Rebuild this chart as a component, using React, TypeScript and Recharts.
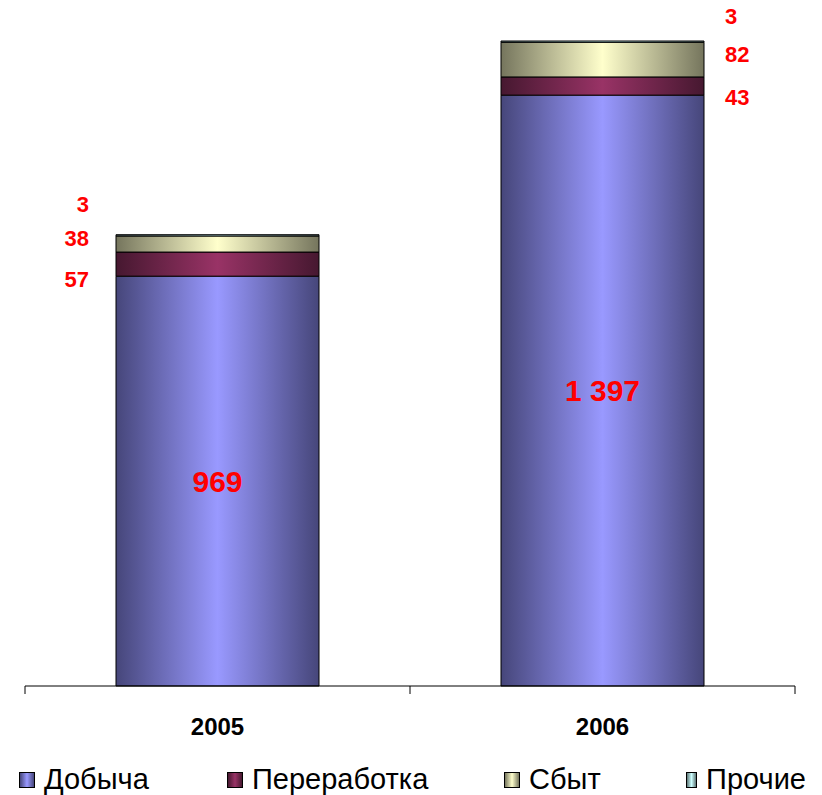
import React from 'react';
import { BarChart, Bar, XAxis, YAxis, Legend, LabelList } from 'recharts';

const years = ['2005', '2006'];
const dobycha = [969, 1397];
const pererabotka = [57, 43];
const sbyt = [38, 82];
const prochie = [3, 3];

const SERIES = [
  { key: 'dobycha', name: 'Добыча', color: '#9999ff', edge: '#46467a' },
  { key: 'pererabotka', name: 'Переработка', color: '#993366', edge: '#461830' },
  { key: 'sbyt', name: 'Сбыт', color: '#ffffcc', edge: '#75755d' },
  { key: 'prochie', name: 'Прочие', color: '#ccffff', edge: '#5e7575' },
];

// legend item widths, so the items sit where the original put them
const LEGEND_W = [208, 277, 182, 120];

// vertical nudges for the small labels, [2005, 2006]
const LABEL_DY: Record<string, number[]> = {
  pererabotka: [15, 11],
  sbyt: [-6, -5],
  prochie: [-31, -25],
};

const data = years.map((year, i) => ({
  year,
  dobycha: dobycha[i],
  pererabotka: pererabotka[i],
  sbyt: sbyt[i],
  prochie: prochie[i],
}));

const FONT = "'Liberation Sans', Arial, sans-serif";
const fmt = (v: number) => String(v).replace(/\B(?=(\d{3})+(?!\d))/g, ' ');

const sideLabel = (key: string) => (props: any) => {
  const { x, y, width, height, value, index } = props;
  const left = index === 0;
  return (
    <text
      x={left ? x - 27 : x + width + 21}
      y={y + height / 2 + LABEL_DY[key][index]}
      textAnchor={left ? 'end' : 'start'}
      dominantBaseline="central"
      fill="#ff0000"
      fontWeight="bold"
      fontSize={22}
      fontFamily={FONT}
    >
      {fmt(value)}
    </text>
  );
};

const centerLabel = (props: any) => {
  const { x, y, width, height, value } = props;
  return (
    <text
      x={x + width / 2}
      y={y + height / 2}
      textAnchor="middle"
      dominantBaseline="central"
      fill="#ff0000"
      fontWeight="bold"
      fontSize={30}
      fontFamily={FONT}
    >
      {fmt(value)}
    </text>
  );
};

const BAND = 385;

const YearTick = (props: any) => {
  const { x, y, payload, index } = props;
  return (
    <g>
      <line x1={x - BAND / 2} y1={y - 8} x2={x - BAND / 2} y2={y} stroke="#000" />
      {index === years.length - 1 && (
        <line x1={x + BAND / 2} y1={y - 8} x2={x + BAND / 2} y2={y} stroke="#000" />
      )}
      <text
        x={x}
        y={y + 32}
        textAnchor="middle"
        dominantBaseline="central"
        fontWeight="bold"
        fontSize={24}
        fontFamily={FONT}
        fill="#000"
      >
        {payload.value}
      </text>
    </g>
  );
};

const LegendContent = () => (
  <div
    style={{
      display: 'flex',
      alignItems: 'center',
      paddingLeft: 19,
      paddingTop: 3,
      height: 31,
      fontFamily: FONT,
      fontSize: 29,
      color: '#000',
    }}
  >
    {SERIES.map((s, i) => (
      <div
        key={s.key}
        style={{ display: 'flex', alignItems: 'center', width: LEGEND_W[i], whiteSpace: 'nowrap' }}
      >
        <span
          style={{
            display: 'inline-block',
            width: 14,
            height: 14,
            border: '1px solid #000',
            background: `linear-gradient(to right, ${s.edge}, ${s.color}, ${s.edge})`,
            marginRight: 9,
          }}
        />
        <span>{s.name}</span>
      </div>
    ))}
  </div>
);

export default function App() {
  return (
    <div style={{ position: 'absolute', left: 0, top: 0, background: '#fff' }}>
      <BarChart
        width={822}
        height={795}
        data={data}
        margin={{ top: 41, right: 27, left: 25, bottom: 0 }}
      >
        <defs>
          {SERIES.map((s) => (
            <linearGradient key={s.key} id={`grad-${s.key}`} x1="0" y1="0" x2="1" y2="0">
              <stop offset="0%" stopColor={s.edge} />
              <stop offset="50%" stopColor={s.color} />
              <stop offset="100%" stopColor={s.edge} />
            </linearGradient>
          ))}
        </defs>
        <XAxis
          dataKey="year"
          axisLine={{ stroke: '#000' }}
          tickLine={false}
          tick={<YearTick />}
          height={75}
          interval={0}
        />
        <YAxis hide domain={[0, 'dataMax']} />
        <Legend
          verticalAlign="bottom"
          wrapperStyle={{ left: 0, width: 822 }}
          content={<LegendContent />}
        />
        {SERIES.map((s) => (
          <Bar
            key={s.key}
            dataKey={s.key}
            name={s.name}
            stackId="a"
            barSize={203}
            fill={`url(#grad-${s.key})`}
            stroke="#000"
            strokeWidth={1}
            isAnimationActive={false}
          >
            <LabelList
              dataKey={s.key}
              content={s.key === 'dobycha' ? centerLabel : sideLabel(s.key)}
            />
          </Bar>
        ))}
      </BarChart>
    </div>
  );
}
